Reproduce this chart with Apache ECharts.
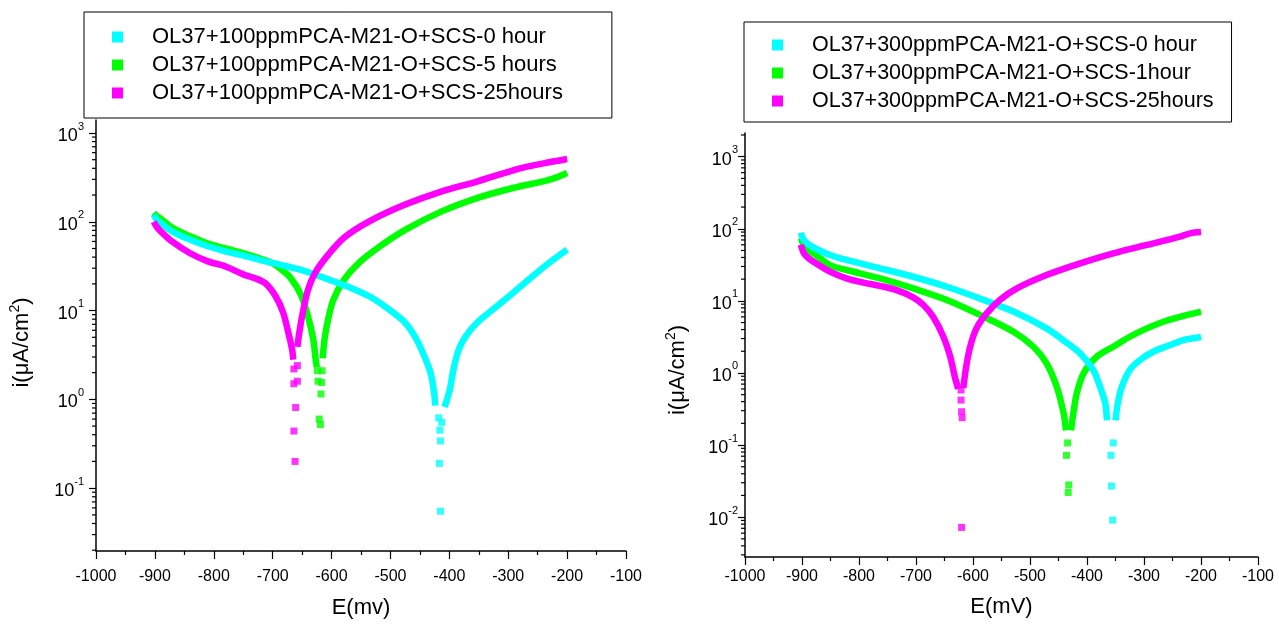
<!DOCTYPE html>
<html>
<head>
<meta charset="utf-8">
<title>Polarization curves</title>
<script src="https://cdn.jsdelivr.net/npm/echarts@6/dist/echarts.min.js"></script>
<style>
  body { margin: 0; background: #fff; }
  #main { width: 1279px; height: 624px; }
</style>
</head>
<body>
<div id="main"></div>
<script>
// series names
var leftNames = ['OL37+100ppmPCA-M21-O+SCS-0 hour', 'OL37+100ppmPCA-M21-O+SCS-5 hours', 'OL37+100ppmPCA-M21-O+SCS-25hours'];
var rightNames = ['OL37+300ppmPCA-M21-O+SCS-0 hour', 'OL37+300ppmPCA-M21-O+SCS-1hour', 'OL37+300ppmPCA-M21-O+SCS-25hours'];
var colors = ['#00ffff', '#00ff00', '#ff00ff'];

// left panel, [E (mV), i (uA/cm2)]; cathodic branch, points at the dip, anodic branch
var l0Cath = [[-902,120],[-897,106],[-890,97],[-871,78],[-841,63],[-810,53],[-780,46.5],[-749,41.5],[-719,36.8],[-688,32.9],[-658,29.4],[-628,25.4],[-597,21.4],[-567,18],[-536,14.5],[-506,10.7],[-475,7.3],[-457,4.9],[-445,3.35],[-432,2.0],[-426,1.2],[-424,0.85]];
var l0Dip = [[-418,0.62],[-413,0.55],[-416,0.45],[-415,0.34],[-417,0.19],[-415,0.055]];
var l0Anod = [[-408,0.82],[-404,1.0],[-399,1.3],[-393,2.17],[-384,3.65],[-372,5.15],[-353,7.3],[-323,10.7],[-292,15.8],[-262,23.3],[-231,34.3],[-200,48.5]];

var l5Cath = [[-902,126],[-897,116],[-890,108],[-871,86],[-841,69],[-810,57],[-780,50],[-749,44],[-719,38],[-700,34],[-688,30],[-670,23.5],[-652,15],[-640,8.6],[-631,4.7],[-627,2.8],[-625,2.3]];
var l5Dip = [[-624,2.1],[-616,2.1],[-623,1.6],[-617,1.55],[-618,1.15],[-621,0.6],[-619,0.52]];
var l5Anod = [[-615,2.9],[-612,4.7],[-606,7.9],[-597,13.2],[-579,22.2],[-554,34.3],[-518,52.8],[-475,81],[-414,130],[-353,185],[-292,240],[-231,297],[-200,355]];

var l25Cath = [[-902,100],[-897,88],[-890,78],[-871,60],[-841,44.5],[-810,35.8],[-780,31.4],[-749,25.4],[-731,23.3],[-713,20.4],[-695,14.5],[-682,9.4],[-673,5.5],[-667,3.65],[-665,2.8]];
var l25Dip = [[-664,2.2],[-658,2.4],[-664,1.5],[-658,1.6],[-661,0.81],[-664,0.44],[-662,0.2]];
var l25Anod = [[-658,3.9],[-655,5.5],[-649,9.4],[-640,17.2],[-628,26.5],[-609,40],[-579,66],[-536,101],[-475,156],[-414,219],[-353,284],[-280,400],[-240,455],[-200,510]];

// right panel
var r0Cath = [[-902,88],[-898,72],[-890,62],[-880,55],[-851,43.3],[-822,36.9],[-763,28.3],[-705,21.6],[-646,15.7],[-588,10.8],[-529,7.1],[-471,4.15],[-442,2.86],[-412,1.87],[-389,1.10],[-377,0.64],[-368,0.38],[-365,0.22]];
var r0Dip = [[-354,0.107],[-358,0.072],[-357,0.027],[-355,0.0091]];
var r0Anod = [[-350,0.22],[-346,0.38],[-339,0.64],[-325,1.10],[-307,1.51],[-284,1.97],[-254,2.44],[-231,2.86],[-205,3.1],[-200,3.15]];

var r1Cath = [[-902,74],[-897,60],[-890,52],[-880,45.6],[-851,31.4],[-822,26.8],[-763,20.5],[-705,14.9],[-646,10.3],[-588,6.4],[-529,3.73],[-494,2.31],[-471,1.36],[-453,0.64],[-441,0.275],[-437,0.16]];
var r1Dip = [[-434,0.107],[-436,0.072],[-432,0.028],[-433,0.022]];
var r1Anod = [[-428,0.16],[-424,0.275],[-418,0.52],[-406,0.99],[-383,1.68],[-354,2.31],[-325,3.18],[-295,4.15],[-266,5.14],[-237,6.0],[-200,7.1]];

var r25Cath = [[-902,60],[-897,46],[-890,40],[-880,34.9],[-851,25.4],[-822,20.5],[-792,17.9],[-763,16.1],[-734,14.1],[-705,11.2],[-687,8.75],[-670,6.0],[-652,3.18],[-640,1.68],[-632,0.89],[-626,0.6]];
var r25Dip = [[-621,0.58],[-621,0.42],[-620,0.29],[-619,0.24],[-620,0.0072]];
var r25Anod = [[-617,0.62],[-612,1.22],[-605,2.31],[-594,4.15],[-576,6.7],[-553,10.3],[-523,14.9],[-471,22.8],[-412,33.1],[-354,45.6],[-295,59.6],[-237,77.7],[-219,86.5],[-200,90]];

// axis ranges and log minor ticks
var xMin = -1000, xMax = -100;
var leftYRange = [0.0196, 1400];
var rightYRange = [0.0028, 2130];
var minorMult = [2, 3, 4, 5, 6, 7, 8, 9];
var decades = [0.001, 0.01, 0.1, 1, 10, 100, 1000];

var FONT = 'Liberation Sans, Arial, sans-serif';

function minorTicks(range) {
    var out = [];
    for (var d = 0; d < decades.length; d++) {
        for (var m = 0; m < minorMult.length; m++) {
            var v = decades[d] * minorMult[m];
            if (v > range[0] && v < range[1]) out.push([xMin, v]);
        }
    }
    return out;
}

function powLabel(v) {
    var e = Math.round(Math.log(v) / Math.LN10);
    return '{b|10}{s|' + e + '}';
}

function xAxisOf(idx, name, labelMargin, nameGap) {
    return {
        type: 'value', gridIndex: idx, min: xMin, max: xMax, interval: 100,
        axisLine: { lineStyle: { color: '#000', width: 1.5 } },
        axisTick: { length: 8, lineStyle: { color: '#000', width: 1.2 } },
        minorTick: { show: true, splitNumber: 2, length: 4, lineStyle: { color: '#000', width: 1.2 } },
        axisLabel: {
            color: '#000', fontSize: 16, fontFamily: FONT, margin: labelMargin,
            formatter: function (v) { return String(v); }
        },
        splitLine: { show: false },
        name: name, nameLocation: 'middle', nameGap: nameGap,
        nameTextStyle: { color: '#000', fontSize: 22, fontFamily: FONT }
    };
}

function yAxisOf(idx, range, labelMargin, nameGap, namePad) {
    return {
        type: 'log', logBase: 10, gridIndex: idx, min: range[0], max: range[1],
        axisLine: { show: true, lineStyle: { color: '#000', width: 1.5 } },
        axisTick: { show: true, length: 7, lineStyle: { color: '#000', width: 1.2 } },
        axisLabel: {
            margin: labelMargin, showMinLabel: false, showMaxLabel: false,
            formatter: powLabel,
            rich: {
                b: { fontSize: 18, color: '#000', fontFamily: FONT, lineHeight: 24, verticalAlign: 'bottom' },
                s: { fontSize: 11, color: '#000', fontFamily: FONT, lineHeight: 12, verticalAlign: 'top' }
            }
        },
        splitLine: { show: false },
        name: 'i(\u03bcA/cm{s|2})', nameLocation: 'middle', nameGap: nameGap, nameRotate: 90,
        nameTextStyle: {
            color: '#000', fontSize: 22, fontFamily: FONT, lineHeight: 28, padding: namePad,
            rich: { s: { fontSize: 14, color: '#000', fontFamily: FONT, lineHeight: 28, verticalAlign: 'top' } }
        }
    };
}

function legendOf(names, left, top, fontSize, pad) {
    return {
        data: names, orient: 'vertical', left: left, top: top,
        icon: 'rect', itemWidth: 11, itemHeight: 11, itemGap: 6,
        borderColor: '#000', borderWidth: 1, padding: pad, backgroundColor: '#fff',
        formatter: function (n) { return '{g| }' + n; },
        textStyle: {
            color: '#000', fontSize: fontSize, fontFamily: FONT, lineHeight: fontSize,
            rich: { g: { width: 24 } }
        }
    };
}

// one curve = two line branches + loose squares at the dip
function curve(name, color, cath, dip, anod, gi, z) {
    var line = function (d) {
        return {
            name: name, type: 'line', data: d, xAxisIndex: gi, yAxisIndex: gi,
            showSymbol: false, smooth: 0.3, z: z,
            lineStyle: { color: color, width: 6.5 }, itemStyle: { color: color }
        };
    };
    return [line(cath), line(anod), {
        name: name, type: 'scatter', data: dip, xAxisIndex: gi, yAxisIndex: gi,
        symbol: 'rect', symbolSize: 7, z: z, itemStyle: { color: color }
    }];
}

function tickSeries(gi, range) {
    return {
        type: 'custom', xAxisIndex: gi, yAxisIndex: gi, silent: true, clip: false, z: 20,
        data: minorTicks(range),
        renderItem: function (params, api) {
            var p = api.coord([api.value(0), api.value(1)]);
            return {
                type: 'line',
                shape: { x1: p[0] - 4, y1: p[1], x2: p[0], y2: p[1] },
                style: { stroke: '#000', lineWidth: 1.2 }
            };
        }
    };
}

var series = [].concat(
    curve(leftNames[1], colors[1], l5Cath, l5Dip, l5Anod, 0, 2),
    curve(leftNames[0], colors[0], l0Cath, l0Dip, l0Anod, 0, 3),
    curve(leftNames[2], colors[2], l25Cath, l25Dip, l25Anod, 0, 4),
    curve(rightNames[1], colors[1], r1Cath, r1Dip, r1Anod, 1, 2),
    curve(rightNames[0], colors[0], r0Cath, r0Dip, r0Anod, 1, 3),
    curve(rightNames[2], colors[2], r25Cath, r25Dip, r25Anod, 1, 4),
    [tickSeries(0, leftYRange), tickSeries(1, rightYRange)]
);

var myChart = echarts.init(document.getElementById('main'));
myChart.setOption({
    animation: false,
    backgroundColor: '#fff',
    textStyle: { fontFamily: FONT },
    grid: [
        { left: 96, right: 653, top: 120, bottom: 72 },
        { left: 745, right: 21, top: 133, bottom: 67 }
    ],
    legend: [
        legendOf(leftNames, 84, 12, 22, [14, 49, 14, 28]),
        legendOf(rightNames, 744, 22, 21.5, [12, 18, 10, 28])
    ],
    xAxis: [xAxisOf(0, 'E(mv)', 18, 46), xAxisOf(1, 'E(mV)', 12, 39)],
    yAxis: [yAxisOf(0, leftYRange, 12, 60, [0, 14, 0, 0]), yAxisOf(1, rightYRange, 7, 53, [0, 50, 0, 0])],
    series: series
});
</script>
</body>
</html>
